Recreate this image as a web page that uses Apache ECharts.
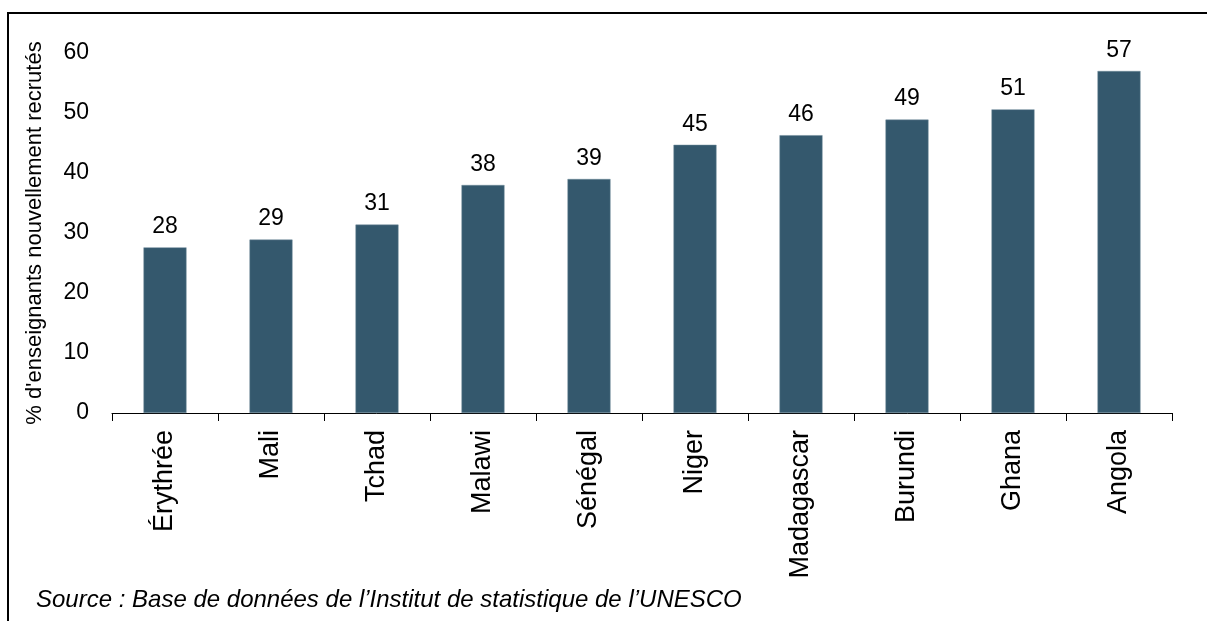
<!DOCTYPE html>
<html>
<head>
<meta charset="utf-8">
<script src="https://cdn.jsdelivr.net/npm/echarts@6/dist/echarts.min.js"></script>
<style>
html,body{margin:0;padding:0;background:#fff;}
#frame{position:absolute;left:7px;top:12px;width:1210px;height:620px;border-left:2px solid #000;border-top:2px solid #000;box-sizing:border-box;}
#chart{position:absolute;left:0;top:0;width:1207px;height:621px;}
</style>
</head>
<body>
<div id="frame"></div>
<div id="chart"></div>
<script>
const categories = ['Érythrée','Mali','Tchad','Malawi','Sénégal','Niger','Madagascar','Burundi','Ghana','Angola'];
const values = [27.6, 28.9, 31.4, 38.0, 39.0, 44.7, 46.3, 48.9, 50.6, 57.0];
const yTicks = [0, 10, 20, 30, 40, 50, 60];
const yTitle = "% d'enseignants nouvellement recrutés";
const sourceText = 'Source : Base de données de l’Institut de statistique de l’UNESCO';

const chart = echarts.init(document.getElementById('chart'), null, {renderer:'canvas'});
const FONT = 'Liberation Sans, Arial, sans-serif';
chart.setOption({
  backgroundColor: 'transparent',
  animation: false,
  textStyle: {fontFamily: FONT},
  grid: {left: 112, right: 35, top: 53, bottom: 208, containLabel: false},
  title: {
    text: sourceText,
    left: 31, top: 583,
    textStyle: {fontFamily: FONT, fontSize: 24, fontStyle: 'italic', fontWeight: 'normal', color: '#000'}
  },
  xAxis: {
    type: 'category',
    data: categories,
    boundaryGap: true,
    axisLine: {show: true, lineStyle: {color: '#000', width: 1}},
    axisTick: {show: true, length: 8, alignWithLabel: false, lineStyle: {color: '#000'}},
    axisLabel: {rotate: 90, margin: 17, fontSize: 27, color: '#000', fontFamily: FONT, interval: 0},
    splitLine: {show: false}
  },
  yAxis: {
    type: 'value',
    min: yTicks[0], max: yTicks[yTicks.length-1], interval: 10,
    name: yTitle,
    nameLocation: 'middle',
    nameRotate: 90,
    nameGap: 66,
    nameTextStyle: {fontSize: 22, color: '#000', fontFamily: FONT},
    axisLine: {show: false},
    axisTick: {show: false},
    splitLine: {show: false},
    axisLabel: {margin: 23, fontSize: 23, color: '#000', fontFamily: FONT}
  },
  series: [{
    type: 'bar',
    data: values,
    barWidth: 43,
    itemStyle: {color: '#34586D', borderColor: '#6f8a9a', borderWidth: 0.5},
    label: {
      show: true, position: 'top', distance: 9,
      fontSize: 23, color: '#000', fontFamily: FONT,
      formatter: p => Math.round(p.value)
    }
  }]
});
</script>
</body>
</html>
